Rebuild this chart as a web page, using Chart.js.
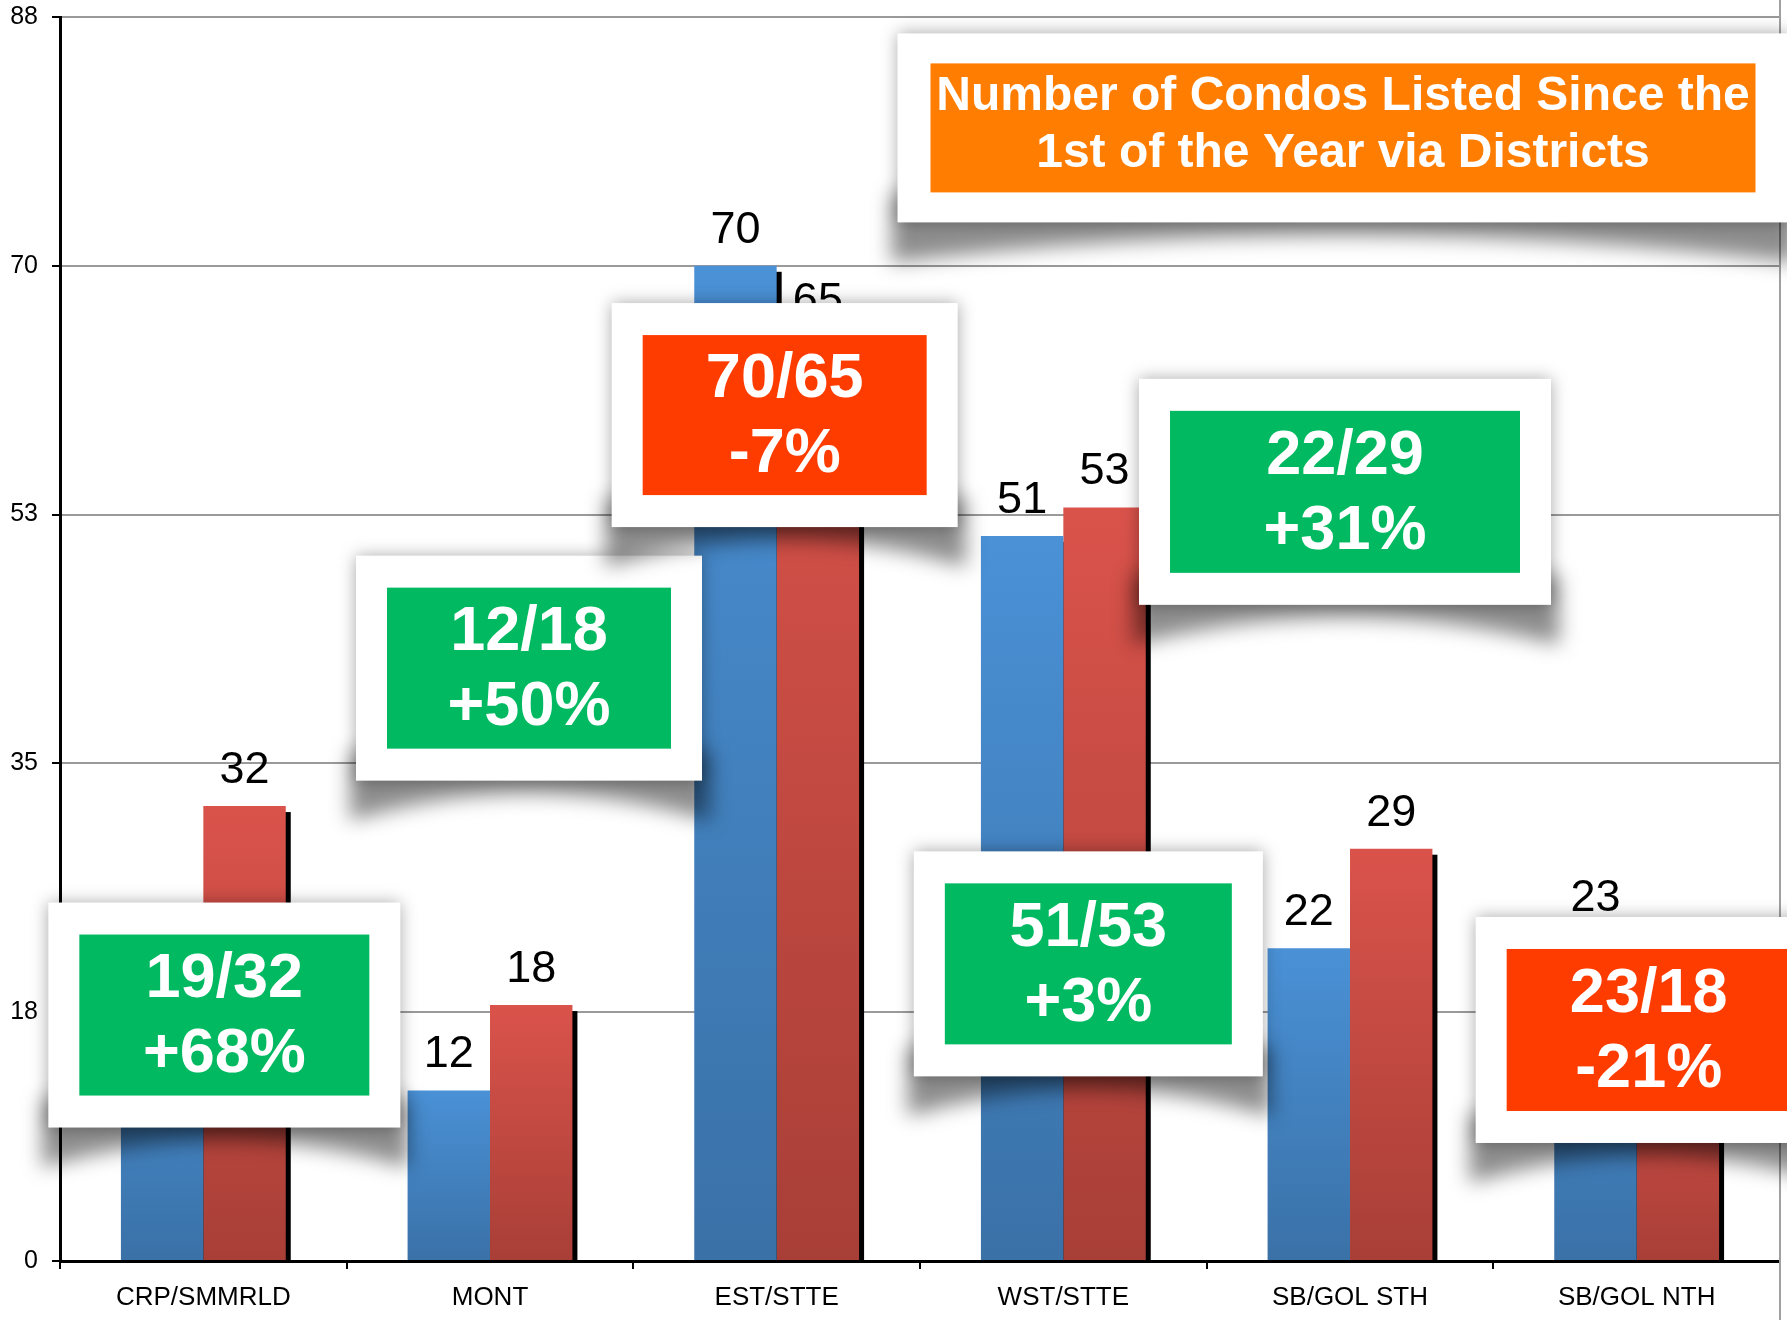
<!DOCTYPE html>
<html>
<head>
<meta charset="utf-8">
<title>Number of Condos Listed Since the 1st of the Year via Districts</title>
<script src="https://cdn.jsdelivr.net/npm/chart.js@4.4.1/dist/chart.umd.min.js"></script>
<style>
  html, body { margin: 0; padding: 0; background: #fff; overflow: hidden; }
  canvas { display: block; }
</style>
</head>
<body>
<canvas id="my-chart" width="1787" height="1320"></canvas>
<script>
'use strict';

// ******** DATA **************
let districts = ['CRP/SMMRLD', 'MONT', 'EST/STTE', 'WST/STTE', 'SB/GOL STH', 'SB/GOL NTH'];
let prevCounts = [19, 12, 70, 51, 22, 23];
let currCounts = [32, 18, 65, 53, 29, 18];
let pctChanges = [68, 50, -7, 3, 31, -21];
let yTickLabels = ['0', '18', '35', '53', '70', '88'];
let titleLines = ['Number of Condos Listed Since the', '1st of the Year via Districts'];

// ******** CALLOUT LAYOUT (anchored to a category and a y value) ********
let calloutSpots = [
  { dx: 21, v: 17.3, w: 352, h: 225 },
  { dx: 39, v: 41.7, w: 346, h: 225 },
  { dx: 8, v: 59.5, w: 346, h: 224 },
  { dx: 25, v: 20.9, w: 349, h: 225 },
  { dx: -5, v: 54.1, w: 412, h: 226 },
  { dx: 12, v: 16.25, w: 346, h: 226 }
];
let titleSpot = { cat: 4, dx: -7, v: 79.7, w: 891, h: 189 };

const FONT = 'Arial, "Liberation Sans", Helvetica, sans-serif';

// *********** HELPERS ***************
function barGradient(topColor, bottomColor) {
  return function (context) {
    let chart = context.chart;
    if (context.type !== 'data' || !chart.chartArea) {
      return topColor;
    }
    let yScale = chart.scales.y;
    let top = yScale.getPixelForValue(context.raw);
    let bottom = yScale.getPixelForValue(0);
    let g = chart.ctx.createLinearGradient(0, top, 0, bottom);
    g.addColorStop(0, topColor);
    g.addColorStop(1, bottomColor);
    return g;
  };
}

function drawCard(ctx, cx, cy, w, h) {
  let x0 = cx - w / 2;
  let y0 = cy - h / 2;
  let x1 = cx + w / 2;
  let y1 = cy + h / 2;

  // curled shadow under the card (heavier at the corners)
  ctx.save();
  ctx.filter = 'blur(10px)';
  ctx.fillStyle = 'rgba(0,0,0,0.45)';
  ctx.beginPath();
  ctx.moveTo(x0 - 6, y1 - 30);
  ctx.lineTo(x1 + 8, y1 - 30);
  ctx.lineTo(x1 + 8, y1 + 40);
  ctx.quadraticCurveTo(cx, y1 - 14, x0 - 6, y1 + 40);
  ctx.closePath();
  ctx.fill();
  ctx.restore();

  // soft halo + white card
  ctx.save();
  ctx.shadowColor = 'rgba(0,0,0,0.35)';
  ctx.shadowBlur = 16;
  ctx.fillStyle = '#fff';
  ctx.fillRect(x0, y0, w, h);
  ctx.restore();
}

// *********** PLUGINS ***************
let barShadowPlugin = {
  id: 'barShadow',
  beforeDatasetsDraw(chart) {
    let ctx = chart.ctx;
    let area = chart.chartArea;
    ctx.save();
    // right border of the plot
    ctx.strokeStyle = '#a0a0a0';
    ctx.lineWidth = 2;
    ctx.beginPath();
    ctx.moveTo(area.right, 0);
    ctx.lineTo(area.right, chart.height);
    ctx.stroke();

    ctx.fillStyle = '#000';
    chart.data.datasets.forEach((ds, i) => {
      chart.getDatasetMeta(i).data.forEach(bar => {
        let p = bar.getProps(['x', 'y', 'base', 'width'], true);
        ctx.fillRect(p.x - p.width / 2 + 5, p.y + 6, p.width, p.base - p.y - 4);
      });
    });
    ctx.restore();
  }
};

let valueLabelPlugin = {
  id: 'valueLabels',
  afterDatasetsDraw(chart) {
    let ctx = chart.ctx;
    ctx.save();
    ctx.font = '45px ' + FONT;
    ctx.fillStyle = '#000';
    ctx.textAlign = 'center';
    ctx.textBaseline = 'alphabetic';
    chart.data.datasets.forEach((ds, i) => {
      chart.getDatasetMeta(i).data.forEach((bar, j) => {
        ctx.fillText(String(ds.data[j]), bar.x, bar.y - 23);
      });
    });
    ctx.restore();
  }
};

let calloutPlugin = {
  id: 'callouts',
  afterDraw(chart) {
    let ctx = chart.ctx;
    let xs = chart.scales.x;
    let ys = chart.scales.y;

    calloutSpots.forEach((spot, i) => {
      let cx = xs.getPixelForValue(i) + spot.dx;
      let cy = ys.getPixelForValue(spot.v);
      drawCard(ctx, cx, cy, spot.w, spot.h);

      let pct = pctChanges[i];
      ctx.fillStyle = pct >= 0 ? '#00b961' : '#ff3c00';
      ctx.fillRect(cx - spot.w / 2 + 31, cy - spot.h / 2 + 32, spot.w - 62, spot.h - 64);

      ctx.save();
      ctx.fillStyle = '#fff';
      ctx.font = 'bold 63px ' + FONT;
      ctx.textAlign = 'center';
      ctx.textBaseline = 'alphabetic';
      ctx.fillText(prevCounts[i] + '/' + currCounts[i], cx, cy - 18);
      ctx.fillText((pct >= 0 ? '+' : '') + pct + '%', cx, cy + 57);
      ctx.restore();
    });

    // title card
    let tx = xs.getPixelForValue(titleSpot.cat) + titleSpot.dx;
    let ty = ys.getPixelForValue(titleSpot.v);
    drawCard(ctx, tx, ty, titleSpot.w, titleSpot.h);
    ctx.fillStyle = '#ff7d00';
    ctx.fillRect(tx - titleSpot.w / 2 + 33, ty - titleSpot.h / 2 + 30, titleSpot.w - 66, titleSpot.h - 60);
    ctx.save();
    ctx.fillStyle = '#fff';
    ctx.font = 'bold 48px ' + FONT;
    ctx.textAlign = 'center';
    ctx.textBaseline = 'alphabetic';
    ctx.fillText(titleLines[0], tx, ty - 18);
    ctx.fillText(titleLines[1], tx, ty + 39);
    ctx.restore();
  }
};

// *********** CHART ***************
let canvasElem = document.getElementById('my-chart');

let chartConfig = {
  type: 'bar',
  data: {
    labels: districts,
    datasets: [{
      label: 'Previous',
      data: prevCounts,
      backgroundColor: barGradient('#4a91d6', '#3a71a7'),
      borderWidth: 0
    },
    {
      label: 'Current',
      data: currCounts,
      backgroundColor: barGradient('#da534b', '#a83f37'),
      borderWidth: 0
    }]
  },
  options: {
    responsive: false,
    animation: false,
    categoryPercentage: 0.575,
    barPercentage: 1,
    layout: {
      padding: { top: 17, right: 7, left: 0, bottom: 0 }
    },
    plugins: {
      legend: { display: false },
      tooltip: { enabled: false },
      title: { display: false }
    },
    scales: {
      x: {
        offset: true,
        grid: {
          display: true,
          offset: true,
          drawOnChartArea: false,
          tickLength: 8,
          tickColor: '#000',
          lineWidth: 2
        },
        border: { display: true, color: '#000', width: 3 },
        ticks: {
          color: '#000',
          font: { family: FONT, size: 26 },
          padding: 13,
          maxRotation: 0,
          autoSkip: false
        },
        afterFit(scale) {
          scale.height = 59;
        }
      },
      y: {
        min: 0,
        max: 87.5,
        grid: {
          color: '#9a9a9a',
          lineWidth: 2,
          tickLength: 8,
          tickColor: '#000'
        },
        border: { display: true, color: '#000', width: 3 },
        ticks: {
          stepSize: 17.5,
          color: '#000',
          font: { family: FONT, size: 25 },
          padding: 14,
          callback: (value, index) => yTickLabels[index]
        },
        afterFit(scale) {
          scale.width = 60;
          scale.paddingTop = 0;
          scale.paddingBottom = 0;
        }
      }
    }
  },
  plugins: [barShadowPlugin, valueLabelPlugin, calloutPlugin]
};

new Chart(canvasElem, chartConfig);
</script>
</body>
</html>
